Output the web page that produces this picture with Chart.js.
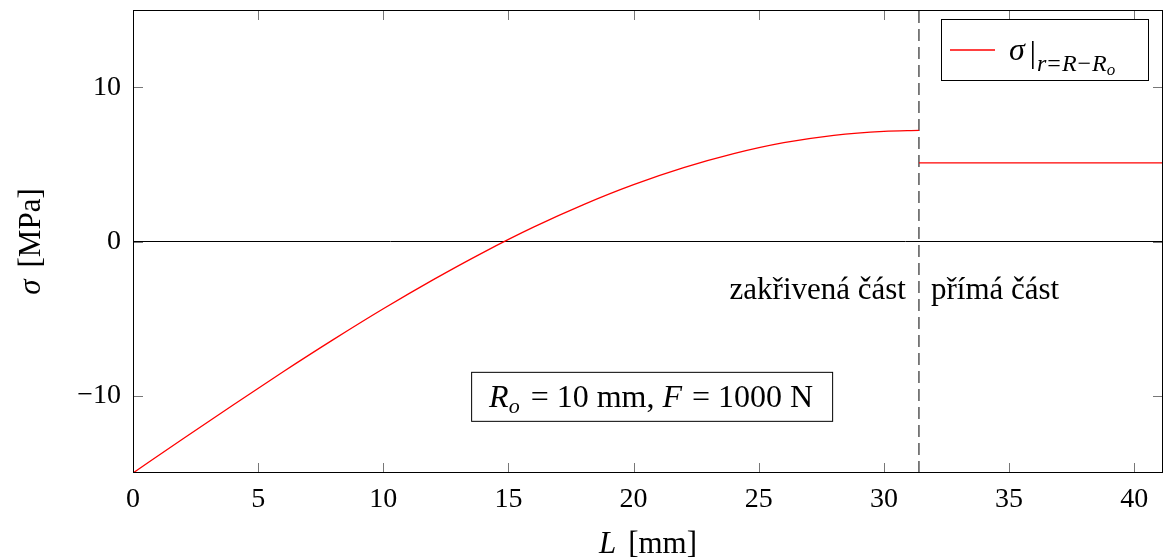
<!DOCTYPE html>
<html>
<head>
<meta charset="utf-8">
<script src="https://cdn.jsdelivr.net/npm/chart.js@4.4.1/dist/chart.umd.min.js"></script>
<style>
  html, body { margin: 0; padding: 0; background: #fff; }
  #wrap { width: 1164px; height: 559px; }
</style>
</head>
<body>
<div id="wrap"><canvas id="chart" width="1164" height="559"></canvas></div>
<script>
// values (L in mm, sigma in MPa)
const curveL = [0, 2, 4, 6, 8, 10, 12, 14, 16, 18, 20, 22, 24, 26, 28, 30, 31.4];
const curveSigma = [-15.0, -12.78, -10.59, -8.44, -6.36, -4.36, -2.47, -0.70, 0.93, 2.39, 3.68, 4.78, 5.69, 6.40, 6.88, 7.14, 7.20];
const straightL = [31.4, 41.2];
const straightSigma = [5.1, 5.1];
const boundaryL = [31.4, 31.4];
const boundarySigma = [-15, 15];
const xTicks = [0, 5, 10, 15, 20, 25, 30, 35, 40];
const yTicks = [-10, 0, 10];
const xRange = [0, 41.15];
const yRange = [-15, 15];

const SERIF = '"Liberation Serif", "DejaVu Serif", serif';
const rm = n => `${n}px ${SERIF}`;
const it = n => `italic ${n}px ${SERIF}`;

const pts = (xs, ys) => xs.map((v, i) => ({ x: v, y: ys[i] }));

function runsWidth(ctx, runs) {
  let w = 0;
  for (const r of runs) {
    ctx.font = r.font;
    w += ctx.measureText(r.t).width + (r.gap || 0);
  }
  return w;
}

function drawRuns(ctx, runs, x, y, align) {
  const w = runsWidth(ctx, runs);
  let cx = align === 'center' ? x - w / 2 : align === 'right' ? x - w : x;
  ctx.textAlign = 'left';
  ctx.textBaseline = 'alphabetic';
  for (const r of runs) {
    ctx.font = r.font;
    ctx.fillText(r.t, cx, y + (r.dy || 0));
    cx += ctx.measureText(r.t).width + (r.gap || 0);
  }
  return w;
}

// frame, inward ticks, labels and boxes like the pgfplots original
const decorations = {
  id: 'decorations',
  afterDraw(chart) {
    const { ctx, chartArea: a, scales: { x, y } } = chart;
    ctx.save();

    // inward ticks on all four sides
    ctx.strokeStyle = '#777';
    ctx.lineWidth = 1;
    ctx.beginPath();
    for (const v of xTicks) {
      const px = Math.round(x.getPixelForValue(v)) + 0.5;
      ctx.moveTo(px, a.bottom); ctx.lineTo(px, a.bottom - 10);
      ctx.moveTo(px, a.top); ctx.lineTo(px, a.top + 10);
    }
    for (const v of yTicks) {
      const py = Math.round(y.getPixelForValue(v)) + 0.5;
      ctx.moveTo(a.left, py); ctx.lineTo(a.left + 10, py);
      ctx.moveTo(a.right, py); ctx.lineTo(a.right - 10, py);
    }
    ctx.stroke();

    // frame
    ctx.strokeStyle = '#000';
    ctx.strokeRect(a.left + 0.5, a.top + 0.5, a.right - a.left - 1, a.bottom - a.top - 1);

    ctx.fillStyle = '#000';

    // region labels either side of the boundary
    const bx = x.getPixelForValue(31.4);
    const ty = y.getPixelForValue(-3.75);
    drawRuns(ctx, [{ t: 'zakřivená část', font: rm(31) }], bx - 13, ty, 'right');
    drawRuns(ctx, [{ t: 'přímá část', font: rm(31) }], bx + 12, ty, 'left');

    // parameter box
    const cx = x.getPixelForValue(20.7);
    const cy = y.getPixelForValue(-10);
    const info = [
      { t: 'R', font: it(32) },
      { t: 'o', font: it(22), dy: 6, gap: 3 },
      { t: ' = 10 mm, ', font: rm(32) },
      { t: 'F', font: it(32), gap: 2 },
      { t: ' = 1000 N', font: rm(32) }
    ];
    ctx.fillStyle = '#fff';
    ctx.fillRect(cx - 180, cy - 24, 361, 49);
    ctx.strokeStyle = '#000';
    ctx.strokeRect(cx - 180 + 0.5, cy - 24 + 0.5, 361, 49);
    ctx.fillStyle = '#000';
    drawRuns(ctx, info, cx, cy + 11, 'center');

    // legend
    const lx = a.right - 222, ly = a.top + 9;
    ctx.fillStyle = '#fff';
    ctx.fillRect(lx, ly, 207, 61);
    ctx.strokeStyle = '#000';
    ctx.strokeRect(lx + 0.5, ly + 0.5, 207, 61);
    ctx.strokeStyle = '#ff0000';
    ctx.lineWidth = 1.3;
    ctx.beginPath();
    ctx.moveTo(lx + 9, ly + 31); ctx.lineTo(lx + 54, ly + 31);
    ctx.stroke();
    ctx.fillStyle = '#000';
    drawRuns(ctx, [{ t: 'σ', font: it(32) }], lx + 68, ly + 41, 'left');
    ctx.fillRect(lx + 91, ly + 22, 1.6, 28);
    drawRuns(ctx, [
      { t: 'r', font: it(24), gap: 1 },
      { t: '=', font: rm(24), gap: 1 },
      { t: 'R', font: it(24), gap: 1 },
      { t: '−', font: rm(24), gap: 1 },
      { t: 'R', font: it(24) },
      { t: 'o', font: it(17), dy: 4 }
    ], lx + 96, ly + 52, 'left');

    // axis titles
    drawRuns(ctx, [
      { t: 'L', font: it(31), gap: 12 },
      { t: '[mm]', font: rm(31) }
    ], (a.left + a.right) / 2, 553, 'center');

    ctx.translate(40, (a.top + a.bottom) / 2);
    ctx.rotate(-Math.PI / 2);
    drawRuns(ctx, [
      { t: 'σ', font: it(31), gap: 12 },
      { t: '[MPa]', font: rm(31) }
    ], 0, 0, 'center');

    ctx.restore();
  }
};

new Chart(document.getElementById('chart'), {
  type: 'line',
  data: {
    datasets: [
      {
        data: pts(curveL, curveSigma),
        borderColor: '#ff0000',
        borderWidth: 1.3,
        pointRadius: 0,
        cubicInterpolationMode: 'monotone'
      },
      {
        data: pts(straightL, straightSigma),
        borderColor: '#ff0000',
        borderWidth: 1.3,
        pointRadius: 0
      },
      {
        data: pts(boundaryL, boundarySigma),
        borderColor: '#000',
        borderWidth: 1,
        borderDash: [12, 6],
        pointRadius: 0
      }
    ]
  },
  options: {
    responsive: false,
    animation: false,
    devicePixelRatio: 1,
    layout: { padding: { top: 10, right: 1, left: 0, bottom: 0 } },
    plugins: { legend: { display: false }, tooltip: { enabled: false } },
    scales: {
      x: {
        type: 'linear',
        min: xRange[0],
        max: xRange[1],
        afterBuildTicks: s => { s.ticks = xTicks.map(v => ({ value: v })); },
        afterFit: s => { s.height = 86; s.paddingLeft = 0; s.paddingRight = 0; },
        grid: { display: false, drawTicks: false },
        border: { display: false },
        ticks: { color: '#000', font: { family: SERIF, size: 28 }, padding: 10, maxRotation: 0 }
      },
      y: {
        type: 'linear',
        min: yRange[0],
        max: yRange[1],
        afterBuildTicks: s => { s.ticks = yTicks.map(v => ({ value: v })); },
        afterFit: s => { s.width = 133; s.paddingTop = 0; s.paddingBottom = 0; },
        grid: {
          drawTicks: false,
          color: c => (c.tick && c.tick.value === 0 ? '#000' : 'rgba(0,0,0,0)'),
          lineWidth: 1
        },
        border: { display: false },
        ticks: {
          color: '#000',
          font: { family: SERIF, size: 28 },
          padding: 12,
          callback: v => (v < 0 ? '−' + Math.abs(v) : String(v))
        }
      }
    }
  },
  plugins: [decorations]
});
</script>
</body>
</html>
